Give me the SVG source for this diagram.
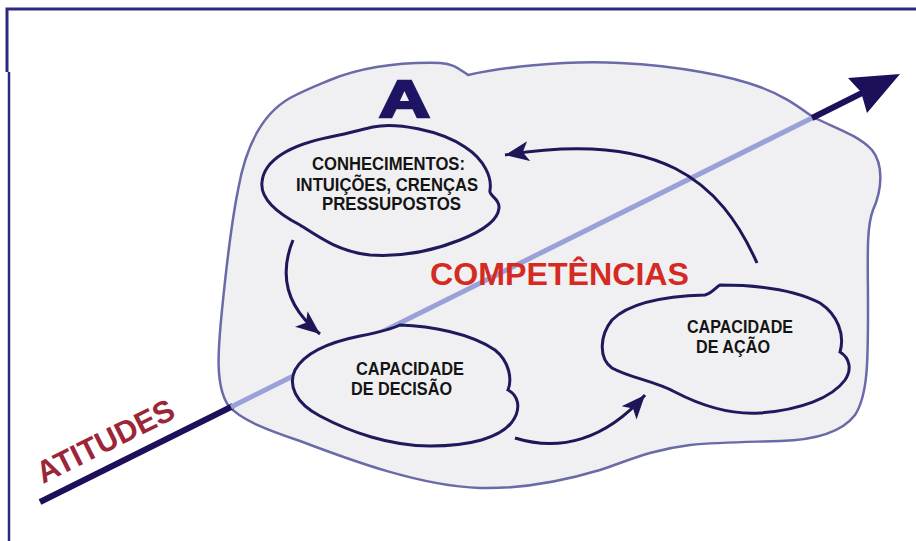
<svg xmlns="http://www.w3.org/2000/svg" width="916" height="541" viewBox="0 0 916 541">
<defs>
<style>
.blob{fill:#f0f0f2;stroke:#6a6aa8;stroke-width:2.5}
.node{fill:#f0f0f2;stroke:#1e1a5c;stroke-width:3}
.conn{fill:none;stroke:#1e1656;stroke-width:3}
.lbl{font-family:"Liberation Sans",Arial,sans-serif;font-weight:bold;font-size:17.5px;fill:#141414}
</style>
<marker id="ah" markerUnits="userSpaceOnUse" markerWidth="26" markerHeight="22" viewBox="0 0 26 22" refX="24" refY="11" orient="auto">
<path d="M0,1 L24,11 L0,21 L6,11 Z" fill="#1e1656"/>
</marker>
</defs>
<g id="border" fill="none" stroke="#2c2a80" stroke-width="3">
<path d="M916,9 L7,9 L7,72"/>
<path d="M9,72 L9,541" stroke-width="2.5"/>
</g>
<g id="field">
<path class="blob" d="M330,80 C360,68 400,62 440,63 C455,64 460,70 468,75 C500,68 560,60 620,63 C680,66 730,76 760,87 C785,96 800,108 813,117 C835,128 858,135 872,150 C884,165 882,190 873,210 C866,228 868,260 868,310 C868,360 868,395 855,415 C842,432 815,440 780,441 C750,442 720,442 690,445 C650,450 630,460 600,470 C560,482 520,489 480,488 C420,486 350,460 300,441 C270,431 240,420 228,405 C215,385 218,350 222,310 C226,270 230,230 238,190 C245,150 260,115 290,98 C305,90 318,85 330,80 Z"/>
</g>
<g id="axis">
<line x1="40" y1="502" x2="233" y2="406" stroke="#1e0f5a" stroke-width="6"/>
<line x1="231" y1="407" x2="814" y2="117" stroke="#9aa0d8" stroke-width="5"/>
<line x1="812" y1="118" x2="864" y2="92" stroke="#1e0f5a" stroke-width="6"/>
<polygon points="900,74 848,78 861,92 867,113" fill="#1e0f5a"/>
</g>
<g id="node-conhecimentos">
<path class="node" d="M373,127 C395,122 440,130 465,147 C485,160 492,178 490,190 C488,196 500,198 499,208 C498,220 485,230 460,240 C430,252 400,257 370,255 C340,252 320,238 300,225 C275,212 260,198 262,182 C264,160 290,145 330,137 C350,133 360,130 373,127 Z"/>
<text class="lbl" x="312" y="170" textLength="153" lengthAdjust="spacingAndGlyphs">CONHECIMENTOS:</text>
<text class="lbl" x="296" y="191" textLength="182" lengthAdjust="spacingAndGlyphs">INTUIÇÕES, CRENÇAS</text>
<text class="lbl" x="322" y="210" textLength="139" lengthAdjust="spacingAndGlyphs">PRESSUPOSTOS</text>
</g>
<g id="node-decisao">
<path class="node" d="M400,325 C430,326 470,333 495,350 C510,362 512,380 508,390 C518,395 522,408 512,422 C500,438 470,446 430,446 C390,446 350,432 320,416 C295,403 288,385 295,370 C305,352 330,342 360,336 C375,333 390,330 400,325 Z"/>
<text class="lbl" x="356" y="375" textLength="108" lengthAdjust="spacingAndGlyphs">CAPACIDADE</text>
<text class="lbl" x="351" y="395" textLength="101" lengthAdjust="spacingAndGlyphs">DE DECISÃO</text>
</g>
<g id="node-acao">
<path class="node" d="M720,285 C760,285 795,290 820,303 C838,315 845,335 840,352 C850,358 852,370 845,380 C832,398 800,410 760,413 C728,415 700,405 675,392 C655,381 630,378 612,368 C598,358 600,335 612,320 C630,302 670,296 705,295 C712,293 716,287 720,285 Z"/>
<text class="lbl" x="687" y="333" textLength="106" lengthAdjust="spacingAndGlyphs">CAPACIDADE</text>
<text class="lbl" x="696" y="353" textLength="74" lengthAdjust="spacingAndGlyphs">DE AÇÃO</text>
</g>
<g id="connectors">
<path class="conn" d="M293,240 C280,272 284,305 320,334" marker-end="url(#ah)"/>
<path class="conn" d="M515,438 C560,452 605,440 645,395" marker-end="url(#ah)"/>
<path class="conn" d="M757,263 C720,180 660,130 505,155" marker-end="url(#ah)"/>
</g>
<g id="titles">
<text x="430" y="285" textLength="259" lengthAdjust="spacingAndGlyphs" font-family="Liberation Sans, Arial, sans-serif" font-weight="bold" font-size="32" fill="#d42a22">COMPETÊNCIAS</text>
<text x="379" y="117" textLength="51" lengthAdjust="spacingAndGlyphs" font-family="Liberation Sans, Arial, sans-serif" font-weight="bold" font-size="52" fill="#1e1464" stroke="#1e1464" stroke-width="2.5">A</text>
<text transform="translate(43,484) rotate(-26.5)" textLength="150" lengthAdjust="spacingAndGlyphs" font-family="Liberation Sans, Arial, sans-serif" font-weight="bold" font-size="31" fill="#9c2638">ATITUDES</text>
</g>
</svg>
